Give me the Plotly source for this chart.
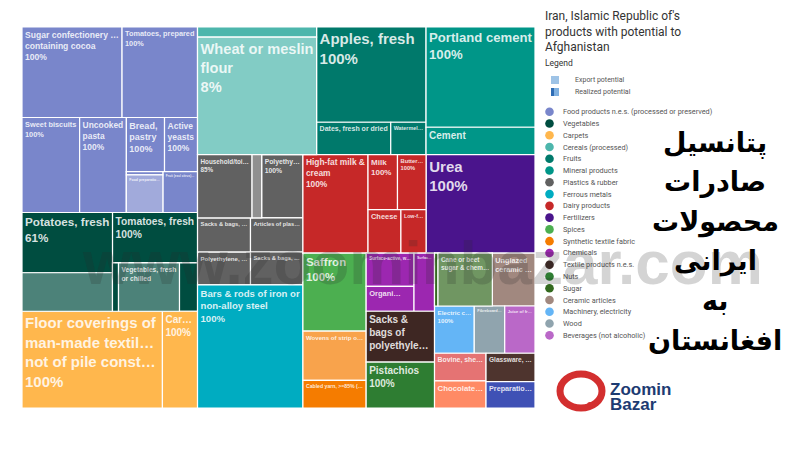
import math
import plotly.graph_objects as go

# ---------------- data ----------------
groups = ["Food products n.e.s. (processed or preserved)", "Vegetables", "Carpets",
          "Cereals (processed)", "Fruits", "Mineral products", "Plastics & rubber",
          "Ferrous metals", "Dairy products", "Fertilizers", "Spices",
          "Synthetic textile fabric", "Chemicals", "Textile products n.e.s.", "Nuts",
          "Sugar", "Ceramic articles", "Machinery, electricity", "Wood",
          "Beverages (not alcoholic)", "Leather", "Cocoa", "Glass", "Cosmetics"]
legend_count = 20

prod_group = [0, 0, 0, 0, 0, 0, 0, 0,
              1, 1, 1, 1,
              2, 2,
              3,
              4, 4, 4,
              5, 5,
              6, 6, 6, 6, 6, 6,
              7,
              8, 8, 8, 8, 8,
              9, 10, 11, 11, 12, 12, 12, 13, 14, 15, 16, 17, 18, 19, 20, 21, 22, 23]
prod_label = ["Sugar confectionery …<br>containing cocoa", "Tomatoes, prepared", "Sweet biscuits",
              "Uncooked<br>pasta", "Bread,<br>pastry", "Active<br>yeasts", "Food preparatio…",
              "Fruit (excl citrus)…",
              "Potatoes, fresh", "Tomatoes, fresh", "Vegetables, fresh<br>or chilled", "",
              "Floor coverings of<br>man-made textil…<br>not of pile const…", "Car…",
              "Wheat or meslin<br>flour",
              "Apples, fresh", "Dates, fresh or dried", "Watermel…",
              "Portland cement", "Cement",
              "Household/toi…", "Polyethy…", "Sacks & bags, …", "Polyethylene, …",
              "Articles of plas…", "Sacks & bags, …",
              "Bars & rods of iron or<br>non-alloy steel",
              "High-fat milk &<br>cream", "Milk", "Butter…", "Cheese", "Low-f…",
              "Urea", "Saffron", "Wovens of strip o…", "Cabled yarn, >=85% (…",
              "Surface-active, w…", "Organi…", "Surfac…", "Sacks &<br>bags of<br>polyethyle…",
              "Pistachios", "Cane or beet<br>sugar & chem…", "Unglazed<br>ceramic …", "Electric c…",
              "Fibreboard…", "Juice of fr…", "Bovine, she…", "Chocolate…", "Glassware, …",
              "Preparatio…"]
prod_value = [9120, 6880, 5510, 4470, 2080, 1800, 1500, 1425,
              9000, 4320, 3260, 880,
              13680, 3420,
              15300,
              10500, 2415, 1150,
              11000, 3000,
              4090, 2630, 1825, 1750, 1800, 1740,
              13056,
              6460, 1634, 1596, 1440, 1110,
              10790, 4960, 3136, 1764, 1600, 1200, 1200, 3500,
              3160, 3078, 2270, 1890, 1450, 1440, 1430, 1410, 1400, 1300]
prod_pct = [100, 100, 100, 100, 100, 100, 8, 100,
            61, 100, 9, 100,
            100, 100,
            8,
            100, 100, 100,
            100, 100,
            85, 100, 100, 100, 100, 100,
            100,
            100, 100, 100, 100, 100,
            100, 100, 0, 100, 100, 100, 100, 100,
            100, 6, 100, 100, 100, 100, 100, 100, 100, 100]
prod_show_pct = [1, 1, 1, 1, 1, 1, 0, 0,
                 1, 1, 0, 0,
                 1, 1,
                 1,
                 1, 0, 0,
                 1, 0,
                 1, 1, 0, 0, 0, 0,
                 1,
                 1, 1, 1, 0, 0,
                 1, 1, 0, 0, 0, 0, 0, 0,
                 1, 0, 0, 1, 0, 0, 0, 0, 0, 0]

caption_lines = ["پتانسیل", "صادرات", "محصولات", "ایرانی", "به", "افغانستان"]
logo_lines = ["Zoomin", "Bazar"]

# ---------------- styles ----------------
group_colors = ["#7986cb", "#004d40", "#ffb74d", "#4db6ac", "#00796b", "#009688", "#616161",
                "#00acc1", "#c62828", "#4a148c", "#4caf50", "#f57c00", "#9c27b0", "#3e2723",
                "#2e7d32", "#33691e", "#a1887f", "#64b5f6", "#90a4ae", "#ba68c8", "#e57373",
                "#ff8a65", "#4e342e", "#3f51b5"]


def lighten(hexc, f=0.3):
    r, g, b = int(hexc[1:3], 16), int(hexc[3:5], 16), int(hexc[5:7], 16)
    r, g, b = [round(c + (255 - c) * f) for c in (r, g, b)]
    return "#%02x%02x%02x" % (r, g, b)


def fsize(v):
    return min(15.0, round((4 + 0.105 * math.sqrt(v)) * 2) / 2)


ids, labels, parents, values, colors, texts, sizes = [], [], [], [], [], [], []


def add(i, lab, par, val, col, txt, sz):
    ids.append(i); labels.append(lab); parents.append(par); values.append(val)
    colors.append(col); texts.append(txt); sizes.append(sz)


for gi, g in enumerate(groups):
    add("g%d" % gi, g, "", 0, group_colors[gi], "", 10)

for pi in range(len(prod_label)):
    gi = prod_group[pi]
    dark = group_colors[gi]
    light = lighten(dark)
    v, pct = prod_value[pi], prod_pct[pi]
    txt = prod_label[pi]
    if prod_show_pct[pi]:
        txt += "<br>%d%%" % pct
    sz = fsize(v)
    pid = "p%d" % pi
    if pct >= 100:
        add(pid, prod_label[pi] or pid, "g%d" % gi, v, dark, txt, sz)
    elif pct <= 0:
        add(pid, prod_label[pi] or pid, "g%d" % gi, v, light, txt, sz)
    else:
        add(pid, prod_label[pi] or pid, "g%d" % gi, 0, dark, "", sz)
        add(pid + "r", "realized", pid, v * pct / 100, dark, txt if pct >= 50 else "", sz)
        add(pid + "u", "potential", pid, v * (100 - pct) / 100, light, txt if pct < 50 else "", sz)

W, H = 800, 450
fig = go.Figure(go.Treemap(
    ids=ids, labels=labels, parents=parents, values=values,
    branchvalues="remainder", sort=False,
    text=texts, textinfo="text", textposition="top left",
    textfont=dict(family="Liberation Sans, Arial, sans-serif", size=sizes,
                  color="rgba(255,255,255,0.85)", weight="bold"),
    marker=dict(colors=colors, line=dict(color="white", width=1.2),
                pad=dict(t=0, l=0, r=0, b=0)),
    tiling=dict(packing="squarify", pad=0),
    pathbar=dict(visible=False),
    domain=dict(x=[22 / W, 535 / W], y=[1 - 408 / H, 1 - 27 / H]),
    hoverinfo="skip",
))

ann = []
shapes = []


def px(x):
    return x / W


def py(y):
    return 1 - y / H


# title block
ann.append(dict(x=px(543), y=py(7), xanchor="left", yanchor="top", align="left",
                text="Iran, Islamic Republic of's<br>products with potential to<br>Afghanistan",
                font=dict(family="Roboto", size=12, color="#333333"), showarrow=False))
ann.append(dict(x=px(543), y=py(63), xanchor="left", yanchor="middle", text="Legend",
                font=dict(family="Roboto", size=8.5, color="#333333"), showarrow=False))
for yy, t in [(80, "Export potential"), (92, "Realized potential")]:
    ann.append(dict(x=px(573), y=py(yy), xanchor="left", yanchor="middle", text=t,
                    font=dict(family="Roboto", size=7, color="#555555"), showarrow=False))
shapes.append(dict(type="rect", xref="paper", yref="paper", x0=px(551), x1=px(559),
                   y0=py(84), y1=py(76), fillcolor="#9ec3e6", line=dict(width=0)))
shapes.append(dict(type="rect", xref="paper", yref="paper", x0=px(551), x1=px(559),
                   y0=py(96), y1=py(88), fillcolor="#7fb0e0", line=dict(width=0)))
shapes.append(dict(type="rect", xref="paper", yref="paper", x0=px(551), x1=px(554),
                   y0=py(96), y1=py(88), fillcolor="#2f6db5", line=dict(width=0)))

# category legend
for i in range(legend_count):
    yy = 111.7 + i * 11.77
    shapes.append(dict(type="circle", xref="paper", yref="paper", xsizemode="pixel",
                       ysizemode="pixel", xanchor=px(549.5), yanchor=py(yy),
                       x0=-4.3, x1=4.3, y0=-4.3, y1=4.3,
                       fillcolor=group_colors[i], line=dict(width=0)))
    ann.append(dict(x=px(561), y=py(yy), xanchor="left", yanchor="middle", text=groups[i],
                    font=dict(family="Roboto", size=7.3, color="#555555"), showarrow=False))

# watermark
ann.append(dict(x=px(422), y=py(262), xanchor="center", yanchor="middle",
                text="<b>www.zoominbazar.com</b>",
                font=dict(family="Liberation Sans, Arial", size=62, color="rgba(40,40,40,0.2)"),
                showarrow=False))

# Persian caption, one line each
for k, line in enumerate(caption_lines):
    ann.append(dict(x=px(715), y=py(143 + k * 39.4), xanchor="center", yanchor="middle",
                    text="<b>%s</b>" % line,
                    font=dict(family="DejaVu Sans", size=27, color="#000000"), showarrow=False))

# logo
shapes.append(dict(type="circle", xref="paper", yref="paper", xsizemode="pixel",
                   ysizemode="pixel", xanchor=px(581), yanchor=py(391),
                   x0=-21, x1=21, y0=-17, y1=17, fillcolor="rgba(0,0,0,0)",
                   line=dict(color="#d32f2f", width=7)))
shapes.append(dict(type="circle", xref="paper", yref="paper", xsizemode="pixel",
                   ysizemode="pixel", xanchor=px(590), yanchor=py(405),
                   x0=-3, x1=3, y0=-3, y1=3, fillcolor="#d32f2f", line=dict(width=0)))
for k, t in enumerate(logo_lines):
    ann.append(dict(x=px(608), y=py(389 + k * 15), xanchor="left", yanchor="middle",
                    text="<b>%s</b>" % t,
                    font=dict(family="Liberation Sans, Arial", size=17, color="#1d3b72"),
                    showarrow=False))

fig.update_layout(width=W, height=H, margin=dict(l=0, r=0, t=0, b=0),
                  paper_bgcolor="white", plot_bgcolor="white",
                  annotations=ann, shapes=shapes, hovermode=False)
fig.write_html("out.html", config={"displayModeBar": False},
               post_script="document.body.style.margin='0px';")
